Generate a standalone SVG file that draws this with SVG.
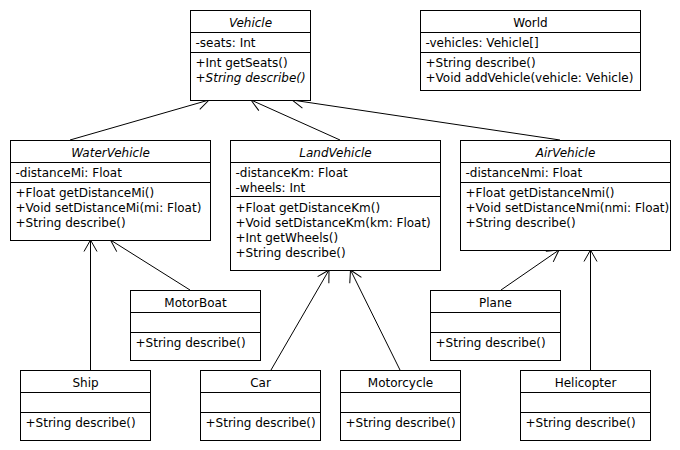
<svg xmlns="http://www.w3.org/2000/svg" width="680" height="450" viewBox="0 0 680 450">
<style>
rect.box{fill:#fff;stroke:#000;stroke-width:1}
line.sep{stroke:#000;stroke-width:1}
text{font-family:"DejaVu Sans","Noto Sans",sans-serif;font-size:12px;fill:#000}
text.t{text-anchor:middle}
.i{font-style:italic}
.edge{stroke:#000;stroke-width:1;fill:none;marker-end:url(#arr)}
</style>
<defs>
<marker id="arr" markerUnits="userSpaceOnUse" markerWidth="20" markerHeight="20" viewBox="-15 -10 20 20" refX="0" refY="0" orient="auto">
<path d="M-11.5,-6.5 L0,0 L-11.5,6.5" fill="none" stroke="#000" stroke-width="1"/>
</marker>
</defs>
<rect width="680" height="450" fill="#fff"/>
<g id="connectors">
<line class="edge" x1="70" y1="140" x2="209" y2="100"/>
<line class="edge" x1="340" y1="140" x2="251" y2="100"/>
<line class="edge" x1="560" y1="140" x2="292" y2="100"/>
<line class="edge" x1="90.5" y1="370" x2="90.5" y2="240"/>
<line class="edge" x1="190" y1="290" x2="110.5" y2="240"/>
<line class="edge" x1="271" y1="370" x2="329" y2="270"/>
<line class="edge" x1="400" y1="370" x2="350.5" y2="270"/>
<line class="edge" x1="501" y1="290" x2="559" y2="250"/>
<line class="edge" x1="590.5" y1="370" x2="590.5" y2="250"/>
</g>
<g id="Vehicle">
<rect class="box" x="190.5" y="10.5" width="120" height="90"/>
<line class="sep" x1="190.5" y1="32.5" x2="310.5" y2="32.5"/>
<line class="sep" x1="190.5" y1="52.5" x2="310.5" y2="52.5"/>
<text class="t i" x="250.5" y="26.5">Vehicle</text>
<text x="195.5" y="46.5">-seats: Int</text>
<text x="195.5" y="66.5">+Int getSeats()</text>
<text class="i" x="195.5" y="81.5">+String describe()</text>
</g>
<g id="World">
<rect class="box" x="420.5" y="10.5" width="220" height="80"/>
<line class="sep" x1="420.5" y1="32.5" x2="640.5" y2="32.5"/>
<line class="sep" x1="420.5" y1="52.5" x2="640.5" y2="52.5"/>
<text class="t" x="530.5" y="26.5">World</text>
<text x="425.5" y="46.5">-vehicles: Vehicle[]</text>
<text x="425.5" y="66.5">+String describe()</text>
<text x="425.5" y="81.5">+Void addVehicle(vehicle: Vehicle)</text>
</g>
<g id="WaterVehicle">
<rect class="box" x="10.5" y="140.5" width="200" height="100"/>
<line class="sep" x1="10.5" y1="162.5" x2="210.5" y2="162.5"/>
<line class="sep" x1="10.5" y1="182.5" x2="210.5" y2="182.5"/>
<text class="t i" x="110.5" y="156.5">WaterVehicle</text>
<text x="15.5" y="176.5">-distanceMi: Float</text>
<text x="15.5" y="196.5">+Float getDistanceMi()</text>
<text x="15.5" y="211.5">+Void setDistanceMi(mi: Float)</text>
<text x="15.5" y="226.5">+String describe()</text>
</g>
<g id="LandVehicle">
<rect class="box" x="230.5" y="140.5" width="210" height="130"/>
<line class="sep" x1="230.5" y1="162.5" x2="440.5" y2="162.5"/>
<line class="sep" x1="230.5" y1="196.5" x2="440.5" y2="196.5"/>
<text class="t i" x="335.5" y="156.5">LandVehicle</text>
<text x="235.5" y="176.5">-distanceKm: Float</text>
<text x="235.5" y="191.5">-wheels: Int</text>
<text x="235.5" y="211.5">+Float getDistanceKm()</text>
<text x="235.5" y="226.5">+Void setDistanceKm(km: Float)</text>
<text x="235.5" y="241.5">+Int getWheels()</text>
<text x="235.5" y="256.5">+String describe()</text>
</g>
<g id="AirVehicle">
<rect class="box" x="460.5" y="140.5" width="210" height="110"/>
<line class="sep" x1="460.5" y1="162.5" x2="670.5" y2="162.5"/>
<line class="sep" x1="460.5" y1="182.5" x2="670.5" y2="182.5"/>
<text class="t i" x="565.5" y="156.5">AirVehicle</text>
<text x="465.5" y="176.5">-distanceNmi: Float</text>
<text x="465.5" y="196.5">+Float getDistanceNmi()</text>
<text x="465.5" y="211.5">+Void setDistanceNmi(nmi: Float)</text>
<text x="465.5" y="226.5">+String describe()</text>
</g>
<g id="MotorBoat">
<rect class="box" x="130.5" y="290.5" width="130" height="70"/>
<line class="sep" x1="130.5" y1="312.5" x2="260.5" y2="312.5"/>
<line class="sep" x1="130.5" y1="332.5" x2="260.5" y2="332.5"/>
<text class="t" x="195.5" y="306.5">MotorBoat</text>
<text x="135.5" y="346.5">+String describe()</text>
</g>
<g id="Plane">
<rect class="box" x="430.5" y="290.5" width="130" height="70"/>
<line class="sep" x1="430.5" y1="312.5" x2="560.5" y2="312.5"/>
<line class="sep" x1="430.5" y1="332.5" x2="560.5" y2="332.5"/>
<text class="t" x="495.5" y="306.5">Plane</text>
<text x="435.5" y="346.5">+String describe()</text>
</g>
<g id="Ship">
<rect class="box" x="20.5" y="370.5" width="130" height="70"/>
<line class="sep" x1="20.5" y1="392.5" x2="150.5" y2="392.5"/>
<line class="sep" x1="20.5" y1="412.5" x2="150.5" y2="412.5"/>
<text class="t" x="85.5" y="386.5">Ship</text>
<text x="25.5" y="426.5">+String describe()</text>
</g>
<g id="Car">
<rect class="box" x="200.5" y="370.5" width="120" height="70"/>
<line class="sep" x1="200.5" y1="392.5" x2="320.5" y2="392.5"/>
<line class="sep" x1="200.5" y1="412.5" x2="320.5" y2="412.5"/>
<text class="t" x="260.5" y="386.5">Car</text>
<text x="205.5" y="426.5">+String describe()</text>
</g>
<g id="Motorcycle">
<rect class="box" x="340.5" y="370.5" width="120" height="70"/>
<line class="sep" x1="340.5" y1="392.5" x2="460.5" y2="392.5"/>
<line class="sep" x1="340.5" y1="412.5" x2="460.5" y2="412.5"/>
<text class="t" x="400.5" y="386.5">Motorcycle</text>
<text x="345.5" y="426.5">+String describe()</text>
</g>
<g id="Helicopter">
<rect class="box" x="520.5" y="370.5" width="130" height="70"/>
<line class="sep" x1="520.5" y1="392.5" x2="650.5" y2="392.5"/>
<line class="sep" x1="520.5" y1="412.5" x2="650.5" y2="412.5"/>
<text class="t" x="585.5" y="386.5">Helicopter</text>
<text x="525.5" y="426.5">+String describe()</text>
</g>
</svg>
